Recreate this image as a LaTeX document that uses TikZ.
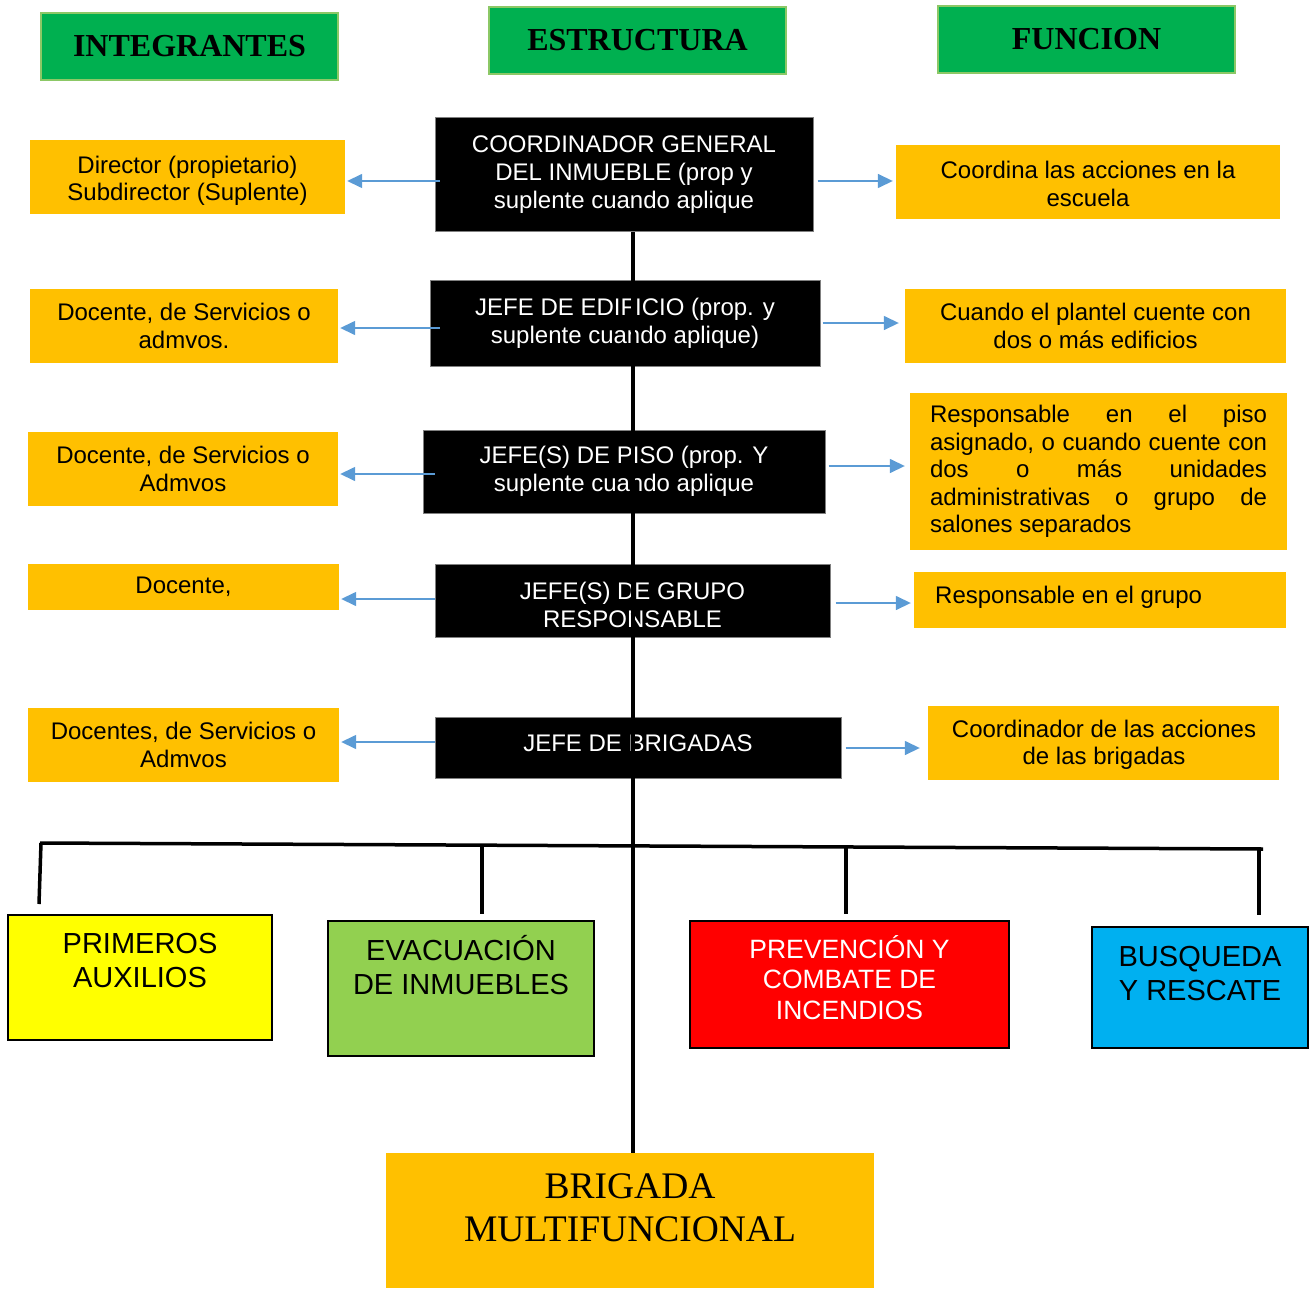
\documentclass[tikz,border=0pt]{standalone}
\usepackage{fontspec}
\setmainfont{Liberation Serif}
\setsansfont{Liberation Sans}
\usetikzlibrary{arrows.meta,calc}
\definecolor{hdrgreen}{HTML}{00B050}
\definecolor{hdredge}{HTML}{8CC866}
\definecolor{orng}{HTML}{FFC000}
\definecolor{arrblue}{HTML}{5B9BD5}
\definecolor{byellow}{HTML}{FFFF00}
\definecolor{bgreen}{HTML}{92D050}
\definecolor{bred}{HTML}{FF0000}
\definecolor{bcyan}{HTML}{00B0F0}
\tikzset{
  hdr/.style={fill=hdrgreen, draw=hdredge, line width=1.5pt, inner sep=0pt,
    minimum width=297pt, minimum height=67pt,
    font=\bfseries\fontsize{32}{36}\selectfont},
  obox/.style={fill=orng, inner sep=0pt, align=center,
    font=\sffamily\fontsize{24}{27.5}\selectfont},
  otext/.style={inner sep=0pt, align=center,
    font=\sffamily\fontsize{24}{27.5}\selectfont},
  bbox/.style={fill=black, draw=gray, line width=1pt, text=white, inner sep=0pt,
    align=center, font=\sffamily\fontsize{24}{28}\selectfont},
  btext/.style={text=white, inner sep=0pt, align=center,
    font=\sffamily\fontsize{24}{28}\selectfont},
  arr/.style={draw=arrblue, line width=1.5pt, -{Triangle[length=15pt,width=14pt]}},
  trunk/.style={draw=black, line width=4pt},
  branch/.style={draw=black, line width=3.5pt},
  cbox/.style={draw=black, line width=2pt, inner sep=0pt},
  ctext/.style={inner sep=0pt, anchor=base, font=\sffamily\fontsize{29}{34}\selectfont},
}
\begin{document}
\begin{tikzpicture}[x=1pt,y=-1pt]
\useasboundingbox (0,0) rectangle (1316,1289);

% headers
\node[hdr] (hI) at (189.5,46.5) {INTEGRANTES};
\node[hdr] (hE) at (637.5,40.5) {ESTRUCTURA};
\node[hdr] (hF) at (1086.5,39.5) {FUNCION};

% left boxes
\node[obox, minimum width=315pt, minimum height=74pt] (l1) at (187.5,177) {};
\node[otext] (l1t) at (187.5,181) {Director (propietario)\\Subdirector (Suplente)};
\node[obox, minimum width=308pt, minimum height=74pt] (l2) at (184,326) {Docente, de Servicios o\\admvos.};
\node[obox, minimum width=310pt, minimum height=74pt] (l3) at (183,469) {Docente, de Servicios o\\Admvos};
\node[obox, minimum width=311pt, minimum height=46pt] (l4) at (183.5,587) {Docente,};
\node[obox, minimum width=311pt, minimum height=74pt] (l5) at (183.5,745) {Docentes, de Servicios o\\Admvos};

% center boxes
\node[bbox, minimum width=378pt, minimum height=114pt] (cg) at (624,175) {COORDINADOR GENERAL\\DEL INMUEBLE (prop y\\suplente cuando aplique};
\node[bbox, minimum width=390pt, minimum height=86pt] (jed) at (625,323) {JEFE DE EDIFICIO (prop. y\\suplente cuando aplique)};
\node[bbox, minimum width=402pt, minimum height=83pt] (jp) at (624,471.5) {JEFE(S) DE PISO (prop. Y\\suplente cuando aplique};
\node[bbox, minimum width=395pt, minimum height=73pt] (jg) at (632.5,600.5) {};
\node[btext] (jgt) at (632.5,604.5) {JEFE(S) DE GRUPO\\RESPONSABLE};
\node[bbox, minimum width=406pt, minimum height=61pt] (jb) at (638,747.5) {};
\node[btext] (jbt) at (638,743) {JEFE DE BRIGADAS};

% right boxes
\node[obox, minimum width=384pt, minimum height=74pt] (r1) at (1088,182) {};
\node[otext] (r1t) at (1088,184) {Coordina las acciones en la\\escuela};
\node[obox, minimum width=381pt, minimum height=74pt] (r2) at (1095.5,326) {Cuando el plantel cuente con\\dos o más edificios};
\node[obox, minimum width=377pt, minimum height=157pt, align=left] (r3) at (1098.5,471.5)
  {\makebox[337pt][s]{Responsable en el piso}\\
   \makebox[337pt][s]{asignado, o cuando cuente con}\\
   \makebox[337pt][s]{dos o más unidades}\\
   \makebox[337pt][s]{administrativas o grupo de}\\
   \makebox[337pt][l]{salones separados}};
\node[obox, minimum width=372pt, minimum height=56pt] (r4) at (1100,600) {};
\node[otext, anchor=west] (r4t) at (935,597) {Responsable en el grupo};
\node[obox, minimum width=351pt, minimum height=74pt] (r5) at (1103.5,743) {};
\node[otext] (r5t) at (1104,745) {Coordinador de las acciones\\de las brigadas};

% y levels of arrows
\coordinate (yl1) at (0,181); \coordinate (yr1) at (0,181);
\coordinate (yl2) at (0,328); \coordinate (yr2) at (0,323);
\coordinate (yl3) at (0,474); \coordinate (yr3) at (0,466);
\coordinate (yl4) at (0,599); \coordinate (yr4) at (0,603);
\coordinate (yl5) at (0,742); \coordinate (yr5) at (0,748);

\draw[arr, shorten <=-5pt, shorten >=2pt] (cg.west |- yl1) -- (l1.east |- yl1);
\draw[arr, shorten <=-10pt, shorten >=2pt] (jed.west |- yl2) -- (l2.east |- yl2);
\draw[arr, shorten <=-12pt, shorten >=2pt] (jp.west |- yl3) -- (l3.east |- yl3);
\draw[arr, shorten <=0pt, shorten >=2pt] (jg.west |- yl4) -- (l4.east |- yl4);
\draw[arr, shorten <=0pt, shorten >=2pt] (jb.west |- yl5) -- (l5.east |- yl5);

\draw[arr, shorten <=4pt, shorten >=3pt] (cg.east |- yr1) -- (r1.west |- yr1);
\draw[arr, shorten <=2pt, shorten >=6pt] (jed.east |- yr2) -- (r2.west |- yr2);
\draw[arr, shorten <=3pt, shorten >=5pt] (jp.east |- yr3) -- (r3.west |- yr3);
\draw[arr, shorten <=5pt, shorten >=3pt] (jg.east |- yr4) -- (r4.west |- yr4);
\draw[arr, shorten <=4pt, shorten >=8pt] (jb.east |- yr5) -- (r5.west |- yr5);

% bottom brigade boxes
\node[cbox, fill=byellow, minimum width=264pt, minimum height=125pt] (pa) at (140,977.5) {};
\node[cbox, fill=bgreen, minimum width=266pt, minimum height=135pt] (ev) at (461,988.5) {};
\node[cbox, fill=bred, minimum width=319pt, minimum height=127pt] (pc) at (849.5,984.5) {};
\node[cbox, fill=bcyan, minimum width=216pt, minimum height=121pt] (br) at (1200,987.5) {};
\node[ctext] (pat) at (140,953.5) {\parbox[t]{260pt}{\centering PRIMEROS\\AUXILIOS}};
\node[ctext] (evt) at (461,960) {\parbox[t]{260pt}{\centering EVACUACIÓN\\DE INMUEBLES}};
\node[ctext, text=white, font=\sffamily\fontsize{26.5}{30.5}\selectfont] (pct) at (849.5,958) {\parbox[t]{310pt}{\centering PREVENCIÓN Y\\COMBATE DE\\INCENDIOS}};
\node[ctext] (brt) at (1200,966) {\parbox[t]{212pt}{\centering BUSQUEDA\\Y RESCATE}};

\node[fill=orng, inner sep=0pt, minimum width=488pt, minimum height=135pt] (bm) at (630,1220.5) {};
\node[inner sep=0pt, anchor=base, font=\fontsize{37.5}{43}\selectfont] (bmt) at (630,1198) {\parbox[t]{480pt}{\centering BRIGADA\\MULTIFUNCIONAL}};

% branch line
\coordinate (bL) at (40,843);
\coordinate (bR) at (1263,849);
\coordinate (d1a) at (41,843); \coordinate (d1b) at (39,904);
\coordinate (d2a) at (482,845); \coordinate (d2b) at (482,914);
\coordinate (d3a) at (846,848); \coordinate (d3b) at (846,914);
\coordinate (d4a) at (1259,850); \coordinate (d4b) at (1259,915);
\draw[branch] (bL) -- (bR);
\draw[branch] (d1a) -- (d1b);
\draw[branch] (d2a) -- (d2b);
\draw[branch] (d3a) -- (d3b);
\draw[branch] (d4a) -- (d4b);

% trunk
\coordinate (tx) at (633,0);
\draw[trunk] (cg.south -| tx) -- (bm.north -| tx);
\end{tikzpicture}
\end{document}
